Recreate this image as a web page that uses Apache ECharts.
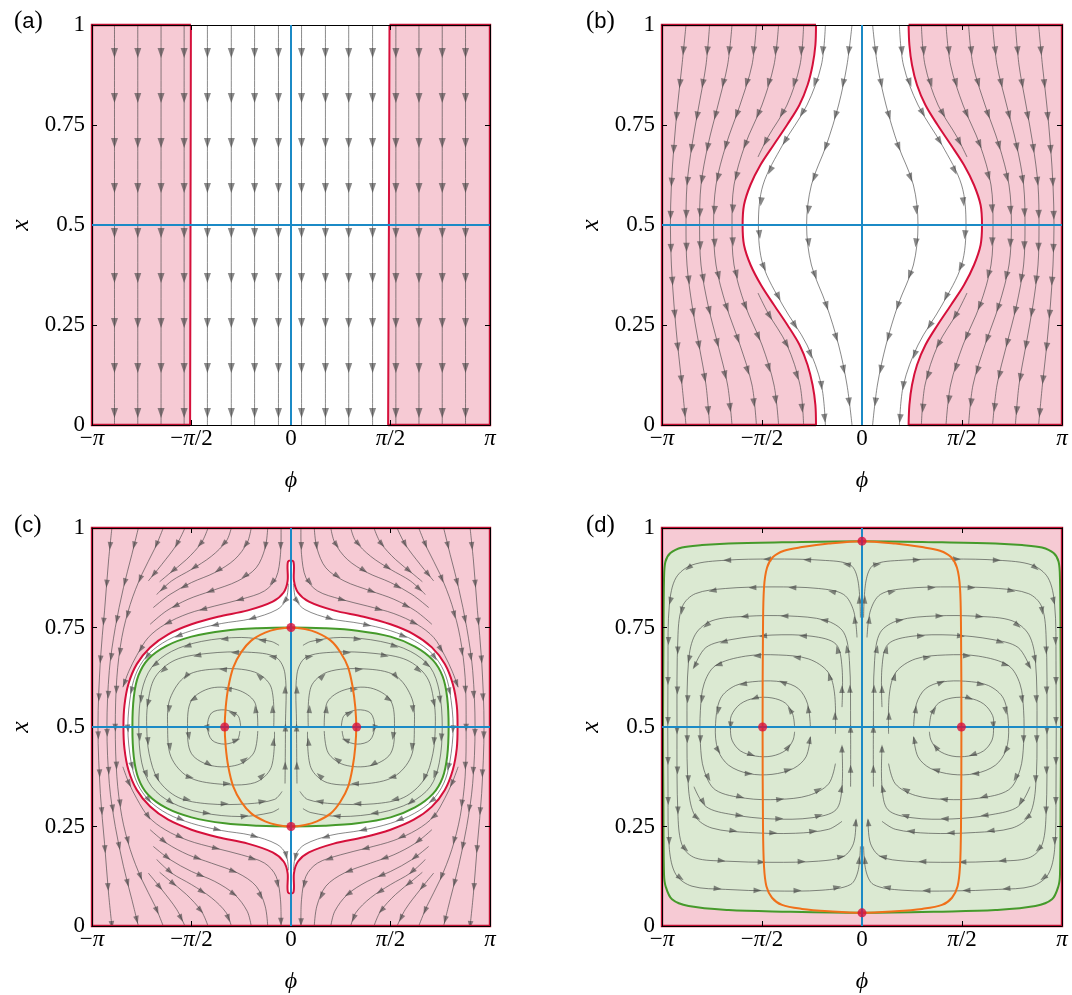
<!DOCTYPE html>
<html>
<head>
<meta charset="utf-8">
<script src="https://cdn.jsdelivr.net/npm/echarts@6/dist/echarts.min.js"></script>
<style>
html,body{margin:0;padding:0;background:#ffffff;}
#chart{width:1072px;height:995px;}
</style>
</head>
<body>
<div id="chart"></div>
<script>
// ---------------- texts ----------------
const panelLetters = ['a','b','c','d'];
const phiTickLabels = ['−{i|π}','−{i|π}/2','0','{i|π}/2','{i|π}'];
const xTickLabels = ['0','0.25','0.5','0.75','1'];
const phiName = 'ϕ';
const xName = 'x';

// horizontal / vertical reference lines (phi in units of pi, x)
const blueLines = [[[0,0],[0,1]],[[-1,0.5],[1,0.5]]];

// ---------------- panel (a) ----------------
const aStreamPhi = [-0.887,-0.77,-0.653,-0.537,-0.42,-0.3,-0.183,-0.063,0.053,0.173,0.29,0.41,0.527,0.643,0.76,0.877];
const aRedLeft = [[-0.503,1],[-0.505,0.5],[-0.507,0]];
const aRedRight = [[0.495,1],[0.492,0.5],[0.488,0]];

// ---------------- panel (b) ----------------
const bLevels = [1,0.9,0.8,0.7,0.6,0.5,0.4,0.3,0.2,0.1,0];
const bStreamPhi = [
  [-0.183,-0.203,-0.275,-0.397,-0.495,-0.518,-0.495,-0.397,-0.275,-0.203,-0.183],
  [-0.05,-0.075,-0.117,-0.178,-0.253,-0.277,-0.253,-0.178,-0.117,-0.075,-0.05],
  [0.053,0.077,0.12,0.18,0.257,0.28,0.257,0.18,0.12,0.077,0.053],
  [0.187,0.207,0.28,0.4,0.498,0.52,0.498,0.4,0.28,0.207,0.187],
  [-0.88,-0.9,-0.922,-0.94,-0.953,-0.958,-0.953,-0.94,-0.922,-0.9,-0.88],
  [-0.762,-0.78,-0.815,-0.85,-0.875,-0.88,-0.875,-0.85,-0.815,-0.78,-0.762],
  [-0.65,-0.672,-0.72,-0.77,-0.805,-0.812,-0.805,-0.77,-0.72,-0.672,-0.65],
  [-0.528,-0.55,-0.61,-0.68,-0.73,-0.742,-0.73,-0.68,-0.61,-0.55,-0.528],
  [-0.417,-0.44,-0.5,-0.585,-0.64,-0.65,-0.64,-0.585,-0.5,-0.44,-0.417],
  [0.883,0.902,0.924,0.942,0.955,0.96,0.955,0.942,0.924,0.902,0.883],
  [0.767,0.785,0.82,0.855,0.88,0.885,0.88,0.855,0.82,0.785,0.767],
  [0.653,0.675,0.723,0.773,0.808,0.815,0.808,0.773,0.723,0.675,0.653],
  [0.533,0.555,0.615,0.685,0.735,0.747,0.735,0.685,0.615,0.555,0.533],
  [0.42,0.443,0.505,0.59,0.645,0.655,0.645,0.59,0.505,0.443,0.42]
];
const bPartial = [
  [[-0.292,1],[-0.31,0.9],[-0.375,0.8],[-0.47,0.72],[-0.52,0.67]],
  [[-0.52,0.33],[-0.47,0.28],[-0.375,0.2],[-0.31,0.1],[-0.292,0]],
  [[0.297,1],[0.315,0.9],[0.38,0.8],[0.475,0.72],[0.525,0.67]],
  [[0.525,0.33],[0.475,0.28],[0.38,0.2],[0.315,0.1],[0.297,0]]
];
const bRedLevels = [1,0.95,0.9,0.85,0.8,0.75,0.7,0.65,0.6,0.55,0.5,0.45,0.4,0.35,0.3,0.25,0.2,0.15,0.1,0.05,0];
const bRedLeft = [-0.23,-0.233,-0.247,-0.272,-0.313,-0.375,-0.442,-0.508,-0.558,-0.59,-0.597,-0.59,-0.557,-0.505,-0.44,-0.373,-0.312,-0.272,-0.247,-0.233,-0.23];
const bRedRight = [0.233,0.237,0.25,0.275,0.317,0.378,0.445,0.51,0.56,0.593,0.6,0.593,0.56,0.51,0.445,0.378,0.317,0.275,0.25,0.237,0.233];

// ---------------- panel (c) ----------------
const cRedLeft = [[-0.015,0.916],[-0.017,0.867],[-0.037,0.838],[-0.092,0.815],[-0.217,0.793],[-0.367,0.777],[-0.5,0.758],[-0.617,0.733],[-0.708,0.7],[-0.775,0.658],[-0.817,0.608],[-0.837,0.554],[-0.842,0.5],[-0.837,0.446],[-0.817,0.392],[-0.775,0.342],[-0.708,0.3],[-0.617,0.267],[-0.5,0.242],[-0.367,0.223],[-0.217,0.207],[-0.092,0.185],[-0.037,0.162],[-0.017,0.133],[-0.015,0.084]];
const cRedRight = [[0.012,0.916],[0.015,0.867],[0.035,0.838],[0.09,0.815],[0.215,0.793],[0.365,0.777],[0.5,0.758],[0.617,0.733],[0.708,0.7],[0.773,0.658],[0.813,0.608],[0.833,0.554],[0.837,0.5],[0.833,0.446],[0.813,0.392],[0.773,0.342],[0.708,0.3],[0.617,0.267],[0.5,0.242],[0.365,0.223],[0.215,0.207],[0.09,0.185],[0.035,0.162],[0.015,0.133],[0.012,0.084]];
const cGreen = [[0,0.75],[-0.167,0.748],[-0.333,0.742],[-0.5,0.727],[-0.625,0.704],[-0.717,0.671],[-0.767,0.629],[-0.79,0.575],[-0.797,0.5],[-0.79,0.425],[-0.767,0.371],[-0.717,0.329],[-0.625,0.296],[-0.5,0.273],[-0.333,0.258],[-0.167,0.252],[0,0.25],[0.167,0.252],[0.333,0.258],[0.5,0.273],[0.623,0.298],[0.713,0.332],[0.762,0.373],[0.785,0.427],[0.792,0.5],[0.785,0.573],[0.762,0.627],[0.713,0.668],[0.623,0.702],[0.5,0.727],[0.333,0.742],[0.167,0.748]];
const cOrange = [[0,0.75],[-0.07,0.746],[-0.13,0.737],[-0.2,0.717],[-0.25,0.688],[-0.29,0.65],[-0.315,0.6],[-0.328,0.55],[-0.333,0.5],[-0.328,0.45],[-0.315,0.4],[-0.29,0.35],[-0.25,0.312],[-0.2,0.283],[-0.13,0.263],[-0.07,0.254],[0,0.25],[0.07,0.254],[0.13,0.263],[0.2,0.283],[0.248,0.312],[0.287,0.35],[0.31,0.4],[0.323,0.45],[0.328,0.5],[0.323,0.55],[0.31,0.6],[0.287,0.65],[0.248,0.688],[0.2,0.717],[0.13,0.737],[0.07,0.746]];
const cDots = [[0,0.75],[0,0.25],[-0.333,0.5],[0.33,0.5]];
const cStreams = [
  [[-0.9,1],[-0.917,0.917],[-0.937,0.792],[-0.958,0.667],[-0.97,0.5],[-0.958,0.333],[-0.937,0.208],[-0.917,0.083],[-0.9,0]],
  [[-0.767,1],[-0.8,0.933],[-0.842,0.85],[-0.883,0.75],[-0.913,0.642],[-0.925,0.5],[-0.913,0.358],[-0.883,0.25],[-0.842,0.15],[-0.8,0.067],[-0.767,0]],
  [[-0.642,1],[-0.683,0.95],[-0.75,0.883],[-0.808,0.808],[-0.85,0.725],[-0.875,0.625],[-0.883,0.5],[-0.875,0.375],[-0.85,0.275],[-0.808,0.192],[-0.75,0.117],[-0.683,0.05],[-0.642,0]],
  [[-0.05,1],[-0.053,0.933],[-0.075,0.875],[-0.133,0.842],[-0.25,0.821],[-0.383,0.804],[-0.517,0.785],[-0.633,0.758],[-0.717,0.725],[-0.775,0.68],[-0.815,0.64],[-0.845,0.6]],
  [[-0.117,1],[-0.13,0.95],[-0.175,0.9],[-0.267,0.867],[-0.4,0.842],[-0.517,0.821],[-0.625,0.792],[-0.708,0.758]],
  [[-0.2,1],[-0.22,0.963],[-0.283,0.921],[-0.383,0.888],[-0.5,0.863],[-0.608,0.833],[-0.692,0.8]],
  [[-0.3,1],[-0.325,0.967],[-0.4,0.929],[-0.5,0.896],[-0.6,0.867],[-0.675,0.833]],
  [[-0.417,1],[-0.45,0.963],[-0.525,0.921],[-0.617,0.883],[-0.66,0.865]],
  [[-0.533,1],[-0.575,0.958],[-0.65,0.908],[-0.717,0.867]],
  [[-0.845,0.4],[-0.815,0.36],[-0.775,0.32],[-0.717,0.275],[-0.633,0.242],[-0.517,0.215],[-0.383,0.196],[-0.25,0.179],[-0.133,0.158],[-0.075,0.125],[-0.053,0.067],[-0.05,0]],
  [[-0.708,0.242],[-0.625,0.208],[-0.517,0.179],[-0.4,0.158],[-0.267,0.133],[-0.175,0.1],[-0.13,0.05],[-0.117,0]],
  [[-0.692,0.2],[-0.608,0.167],[-0.5,0.137],[-0.383,0.112],[-0.283,0.079],[-0.22,0.037],[-0.2,0]],
  [[-0.675,0.167],[-0.6,0.133],[-0.5,0.104],[-0.4,0.071],[-0.325,0.033],[-0.3,0]],
  [[-0.66,0.135],[-0.617,0.117],[-0.525,0.079],[-0.45,0.037],[-0.417,0]],
  [[-0.717,0.133],[-0.65,0.092],[-0.575,0.042],[-0.533,0]],
  [[0.9,1],[0.917,0.917],[0.937,0.792],[0.958,0.667],[0.97,0.5],[0.958,0.333],[0.937,0.208],[0.917,0.083],[0.9,0]],
  [[0.767,1],[0.8,0.933],[0.842,0.85],[0.883,0.75],[0.913,0.642],[0.925,0.5],[0.913,0.358],[0.883,0.25],[0.842,0.15],[0.8,0.067],[0.767,0]],
  [[0.642,1],[0.683,0.95],[0.75,0.883],[0.808,0.808],[0.85,0.725],[0.875,0.625],[0.88,0.5],[0.875,0.375],[0.85,0.275],[0.808,0.192],[0.75,0.117],[0.683,0.05],[0.642,0]],
  [[0.05,1],[0.053,0.933],[0.075,0.875],[0.133,0.842],[0.25,0.821],[0.383,0.804],[0.517,0.785],[0.633,0.758],[0.717,0.725],[0.772,0.68],[0.81,0.64],[0.84,0.6]],
  [[0.117,1],[0.13,0.95],[0.175,0.9],[0.267,0.867],[0.4,0.842],[0.517,0.821],[0.625,0.792],[0.708,0.758]],
  [[0.2,1],[0.22,0.963],[0.283,0.921],[0.383,0.888],[0.5,0.863],[0.608,0.833],[0.692,0.8]],
  [[0.3,1],[0.325,0.967],[0.4,0.929],[0.5,0.896],[0.6,0.867],[0.675,0.833]],
  [[0.417,1],[0.45,0.963],[0.525,0.921],[0.617,0.883],[0.66,0.865]],
  [[0.533,1],[0.575,0.958],[0.65,0.908],[0.717,0.867]],
  [[0.84,0.4],[0.81,0.36],[0.772,0.32],[0.717,0.275],[0.633,0.242],[0.517,0.215],[0.383,0.196],[0.25,0.179],[0.133,0.158],[0.075,0.125],[0.053,0.067],[0.05,0]],
  [[0.708,0.242],[0.625,0.208],[0.517,0.179],[0.4,0.158],[0.267,0.133],[0.175,0.1],[0.13,0.05],[0.117,0]],
  [[0.692,0.2],[0.608,0.167],[0.5,0.137],[0.383,0.112],[0.283,0.079],[0.22,0.037],[0.2,0]],
  [[0.675,0.167],[0.6,0.133],[0.5,0.104],[0.4,0.071],[0.325,0.033],[0.3,0]],
  [[0.66,0.135],[0.617,0.117],[0.525,0.079],[0.45,0.037],[0.417,0]],
  [[0.717,0.133],[0.65,0.092],[0.575,0.042],[0.533,0]],
  [[-0.253,0.5],[-0.267,0.529],[-0.333,0.543],[-0.4,0.535],[-0.42,0.5],[-0.397,0.467],[-0.333,0.457],[-0.27,0.468],[-0.257,0.49]],
  [[-0.167,0.5],[-0.183,0.563],[-0.267,0.593],[-0.4,0.598],[-0.5,0.567],[-0.52,0.5],[-0.5,0.433],[-0.4,0.403],[-0.267,0.405],[-0.187,0.435],[-0.167,0.49]],
  [[-0.087,0.5],[-0.1,0.6],[-0.183,0.638],[-0.367,0.646],[-0.525,0.629],[-0.608,0.571],[-0.62,0.5],[-0.603,0.425],[-0.517,0.375],[-0.367,0.357],[-0.183,0.36],[-0.1,0.398],[-0.083,0.488]],
  [[-0.03,0.358],[-0.028,0.5],[-0.03,0.633],[-0.075,0.675],[-0.217,0.688],[-0.417,0.685],[-0.583,0.668],[-0.683,0.625],[-0.72,0.558],[-0.725,0.5],[-0.713,0.433],[-0.667,0.367],[-0.567,0.323],[-0.417,0.307],[-0.217,0.307],[-0.083,0.318],[-0.045,0.338]],
  [[-0.06,0.705],[-0.1,0.715],[-0.25,0.725],[-0.45,0.715],[-0.6,0.69],[-0.7,0.65],[-0.75,0.59],[-0.765,0.5],[-0.75,0.41],[-0.7,0.35],[-0.6,0.31],[-0.45,0.285],[-0.25,0.275],[-0.1,0.285],[-0.06,0.295]],
  [[0.253,0.5],[0.267,0.529],[0.333,0.543],[0.4,0.535],[0.42,0.5],[0.397,0.467],[0.333,0.457],[0.27,0.468],[0.257,0.49]],
  [[0.167,0.5],[0.183,0.563],[0.267,0.593],[0.4,0.598],[0.5,0.567],[0.52,0.5],[0.5,0.433],[0.4,0.403],[0.267,0.405],[0.187,0.435],[0.167,0.49]],
  [[0.087,0.5],[0.1,0.6],[0.183,0.638],[0.367,0.646],[0.525,0.629],[0.608,0.571],[0.62,0.5],[0.603,0.425],[0.517,0.375],[0.367,0.357],[0.183,0.36],[0.1,0.398],[0.083,0.488]],
  [[0.03,0.358],[0.028,0.5],[0.03,0.633],[0.075,0.675],[0.217,0.688],[0.417,0.685],[0.583,0.668],[0.683,0.625],[0.72,0.558],[0.725,0.5],[0.713,0.433],[0.667,0.367],[0.567,0.323],[0.417,0.307],[0.217,0.307],[0.083,0.318],[0.045,0.338]],
  [[0.06,0.705],[0.1,0.715],[0.25,0.725],[0.45,0.715],[0.6,0.69],[0.7,0.65],[0.745,0.59],[0.76,0.5],[0.745,0.41],[0.7,0.35],[0.6,0.31],[0.45,0.285],[0.25,0.275],[0.1,0.285],[0.06,0.295]],
  [[-0.013,0.86],[-0.025,0.82],[-0.07,0.795],[-0.2,0.772],[-0.35,0.76],[-0.5,0.742],[-0.621,0.718],[-0.712,0.685],[-0.771,0.643],[-0.803,0.59],[-0.82,0.5],[-0.803,0.41],[-0.771,0.357],[-0.712,0.315],[-0.621,0.282],[-0.5,0.258],[-0.35,0.24],[-0.2,0.228],[-0.07,0.205],[-0.025,0.18],[-0.013,0.14]],
  [[0.013,0.86],[0.025,0.82],[0.07,0.795],[0.2,0.772],[0.35,0.76],[0.5,0.742],[0.62,0.717],[0.71,0.684],[0.768,0.641],[0.798,0.588],[0.815,0.5],[0.798,0.412],[0.768,0.359],[0.71,0.316],[0.62,0.283],[0.5,0.258],[0.35,0.24],[0.2,0.228],[0.07,0.205],[0.025,0.18],[0.013,0.14]]
];

// ---------------- panel (d) ----------------
const dGreen = [[0,0.967],[-0.4,0.964],[-0.667,0.961],[-0.8,0.957],[-0.9,0.951],[-0.958,0.937],[-0.983,0.915],[-0.99,0.87],[-0.993,0.7],[-0.995,0.5],[-0.993,0.3],[-0.99,0.13],[-0.982,0.1],[-0.95,0.067],[-0.867,0.05],[-0.667,0.04],[-0.4,0.036],[0,0.033],[0.4,0.036],[0.667,0.04],[0.867,0.05],[0.95,0.067],[0.982,0.1],[0.99,0.13],[0.993,0.3],[0.995,0.5],[0.993,0.7],[0.99,0.87],[0.983,0.915],[0.958,0.937],[0.9,0.951],[0.8,0.957],[0.667,0.961],[0.4,0.964]];
const dOrange = [[0,0.967],[-0.167,0.961],[-0.3,0.952],[-0.39,0.943],[-0.445,0.927],[-0.475,0.9],[-0.49,0.85],[-0.495,0.75],[-0.497,0.5],[-0.495,0.25],[-0.49,0.15],[-0.478,0.1],[-0.45,0.071],[-0.4,0.053],[-0.3,0.043],[-0.167,0.037],[0,0.033],[0.167,0.037],[0.3,0.043],[0.4,0.053],[0.45,0.071],[0.478,0.1],[0.49,0.15],[0.495,0.25],[0.497,0.5],[0.495,0.75],[0.49,0.85],[0.475,0.9],[0.445,0.927],[0.39,0.943],[0.3,0.952],[0.167,0.961]];
const dDots = [[0,0.967],[0,0.033],[-0.497,0.5],[0.497,0.5]];
const dStreams = [
  [[-0.337,0.5],[-0.347,0.533],[-0.383,0.56],[-0.45,0.573],[-0.533,0.573],[-0.608,0.558],[-0.653,0.529],[-0.658,0.5],[-0.65,0.467],[-0.608,0.44],[-0.533,0.427],[-0.45,0.427],[-0.38,0.442],[-0.345,0.467],[-0.337,0.488]],
  [[-0.258,0.5],[-0.272,0.558],[-0.317,0.596],[-0.4,0.613],[-0.517,0.615],[-0.633,0.604],[-0.708,0.571],[-0.733,0.5],[-0.72,0.442],[-0.667,0.404],[-0.567,0.383],[-0.45,0.381],[-0.342,0.396],[-0.28,0.425],[-0.258,0.475]],
  [[-0.133,0.483],[-0.137,0.583],[-0.17,0.638],[-0.267,0.671],[-0.417,0.681],[-0.583,0.678],[-0.733,0.654],[-0.79,0.608],[-0.808,0.542],[-0.808,0.458],[-0.79,0.392],[-0.733,0.342],[-0.583,0.321],[-0.417,0.318],[-0.267,0.328],[-0.167,0.357],[-0.133,0.408]],
  [[-0.057,0.35],[-0.057,0.5],[-0.063,0.667],[-0.092,0.738],[-0.183,0.768],[-0.367,0.779],[-0.583,0.778],[-0.75,0.767],[-0.833,0.733],[-0.867,0.667],[-0.875,0.5],[-0.867,0.342],[-0.833,0.275],[-0.75,0.246],[-0.567,0.235],[-0.333,0.233],[-0.167,0.243],[-0.1,0.263]],
  [[-0.025,0.725],[-0.042,0.792],[-0.092,0.833],[-0.217,0.848],[-0.45,0.852],[-0.683,0.848],[-0.833,0.835],[-0.897,0.804],[-0.92,0.733],[-0.925,0.5],[-0.92,0.275],[-0.897,0.2],[-0.833,0.171],[-0.683,0.163],[-0.45,0.16],[-0.217,0.163],[-0.092,0.175],[-0.042,0.208],[-0.03,0.267]],
  [[-0.008,0.775],[-0.02,0.867],[-0.058,0.907],[-0.2,0.919],[-0.45,0.922],[-0.683,0.919],[-0.85,0.907],[-0.93,0.875],[-0.963,0.808],[-0.97,0.667],[-0.97,0.333],[-0.963,0.192],[-0.93,0.129],[-0.85,0.1],[-0.683,0.092],[-0.45,0.088],[-0.2,0.09],[-0.058,0.104],[-0.02,0.138],[-0.008,0.2]],
  [[-0.1,0.55],[-0.1,0.65],[-0.13,0.708],[-0.25,0.728],[-0.45,0.731],[-0.65,0.72],[-0.78,0.7],[-0.84,0.65]],
  [[-0.84,0.35],[-0.78,0.3],[-0.65,0.28],[-0.45,0.269],[-0.25,0.272],[-0.13,0.292],[-0.1,0.35],[-0.1,0.45]],
  [[0.337,0.5],[0.347,0.533],[0.383,0.56],[0.45,0.573],[0.533,0.573],[0.608,0.558],[0.653,0.529],[0.658,0.5],[0.65,0.467],[0.608,0.44],[0.533,0.427],[0.45,0.427],[0.38,0.442],[0.345,0.467],[0.337,0.488]],
  [[0.258,0.5],[0.272,0.558],[0.317,0.596],[0.4,0.613],[0.517,0.615],[0.633,0.604],[0.708,0.571],[0.733,0.5],[0.72,0.442],[0.667,0.404],[0.567,0.383],[0.45,0.381],[0.342,0.396],[0.28,0.425],[0.258,0.475]],
  [[0.133,0.483],[0.137,0.583],[0.17,0.638],[0.267,0.671],[0.417,0.681],[0.583,0.678],[0.733,0.654],[0.79,0.608],[0.808,0.542],[0.808,0.458],[0.79,0.392],[0.733,0.342],[0.583,0.321],[0.417,0.318],[0.267,0.328],[0.167,0.357],[0.133,0.408]],
  [[0.057,0.35],[0.057,0.5],[0.063,0.667],[0.092,0.738],[0.183,0.768],[0.367,0.779],[0.583,0.778],[0.75,0.767],[0.833,0.733],[0.867,0.667],[0.875,0.5],[0.867,0.342],[0.833,0.275],[0.75,0.246],[0.567,0.235],[0.333,0.233],[0.167,0.243],[0.1,0.263]],
  [[0.025,0.725],[0.042,0.792],[0.092,0.833],[0.217,0.848],[0.45,0.852],[0.683,0.848],[0.833,0.835],[0.897,0.804],[0.92,0.733],[0.925,0.5],[0.92,0.275],[0.897,0.2],[0.833,0.171],[0.683,0.163],[0.45,0.16],[0.217,0.163],[0.092,0.175],[0.042,0.208],[0.03,0.267]],
  [[0.008,0.775],[0.02,0.867],[0.058,0.907],[0.2,0.919],[0.45,0.922],[0.683,0.919],[0.85,0.907],[0.93,0.875],[0.963,0.808],[0.97,0.667],[0.97,0.333],[0.963,0.192],[0.93,0.129],[0.85,0.1],[0.683,0.092],[0.45,0.088],[0.2,0.09],[0.058,0.104],[0.02,0.138],[0.008,0.2]],
  [[0.1,0.55],[0.1,0.65],[0.13,0.708],[0.25,0.728],[0.45,0.731],[0.65,0.72],[0.78,0.7],[0.84,0.65]],
  [[0.84,0.35],[0.78,0.3],[0.65,0.28],[0.45,0.269],[0.25,0.272],[0.13,0.292],[0.1,0.35],[0.1,0.45]]
];

// ---------------- styling / layout ----------------
const SERIF = "'Liberation Serif','DejaVu Serif',serif";
const SANS = "'Liberation Sans','DejaVu Sans',sans-serif";
const COLOR = {pink:'#f6cad4', green:'#dbe9d2', red:'#d5103b', frameRed:'#c20f32', gline:'#459a2b', orange:'#f0701a', blue:'#1b8ac6', dot:'#d8103d'};
const GRAY = 'rgba(64,64,64,0.62)';
const GRID = [
  {left:92, top:25, width:398, height:400},
  {left:662, top:25, width:400, height:400},
  {left:92, top:528, width:398, height:400},
  {left:662, top:528, width:400, height:400}
];
const FRAME = [[-1,1],[1,1],[1,0],[-1,0]];
const ARROW = [{off:28,sp:45,L:10,W:7},{off:26,sp:33,L:9,W:6.5},{off:18,sp:38,L:8,W:5.6},{off:18,sp:40,L:8,W:5.6}];

function pairUp(levels, phis){ return phis.map((p,i)=>[p, levels[i]]); }
function last(a){ return a[a.length-1]; }

const panels = [];
panels.push({
  fills:[{pts:[[-1,1]].concat(aRedLeft,[[-1,0]]), fill:COLOR.pink},{pts:aRedRight.concat([[1,0],[1,1]]), fill:COLOR.pink}],
  streams: aStreamPhi.map(p=>[[p,1],[p,0]]),
  curves:[{pts:aRedLeft,color:COLOR.red,w:2},{pts:aRedRight,color:COLOR.red,w:2}],
  frame:[{pts:[aRedLeft[0],[-1,1],[-1,0],last(aRedLeft)]},{pts:[aRedRight[0],[1,1],[1,0],last(aRedRight)]}],
  dots:[]
});
const bL = pairUp(bRedLevels,bRedLeft), bR = pairUp(bRedLevels,bRedRight);
panels.push({
  fills:[{pts:[[-1,1]].concat(bL,[[-1,0]]), fill:COLOR.pink},{pts:bR.concat([[1,0],[1,1]]), fill:COLOR.pink}],
  streams: bStreamPhi.map(a=>pairUp(bLevels,a)).concat(bPartial),
  curves:[{pts:bL,color:COLOR.red,w:2,smooth:0.33},{pts:bR,color:COLOR.red,w:2,smooth:0.33}],
  frame:[{pts:[bL[0],[-1,1],[-1,0],last(bL)]},{pts:[bR[0],[1,1],[1,0],last(bR)]}],
  dots:[]
});
const cRed = cRedLeft.concat(cRedRight.slice().reverse());
panels.push({
  fills:[{pts:FRAME,fill:COLOR.pink},{pts:cRed,fill:'#ffffff',smooth:0.33},{pts:cGreen,fill:COLOR.green,smooth:0.33}],
  streams:cStreams,
  curves:[{pts:cRed,closed:true,smooth:0.33,color:COLOR.red,w:2},{pts:cGreen,closed:true,smooth:0.33,color:COLOR.gline,w:2},{pts:cOrange,closed:true,smooth:0.33,color:COLOR.orange,w:2}],
  frame:[{pts:FRAME,closed:true}],
  dots:cDots
});
panels.push({
  fills:[{pts:FRAME,fill:COLOR.pink},{pts:dGreen,fill:COLOR.green,smooth:0.33}],
  streams:dStreams,
  curves:[{pts:dGreen,closed:true,smooth:0.33,color:COLOR.gline,w:2},{pts:dOrange,closed:true,smooth:0.33,color:COLOR.orange,w:2}],
  frame:[{pts:FRAME,closed:true}],
  dots:dDots
});

function streamEl(pts, A){
  const ch=[{type:'polyline', shape:{points:pts, smooth:0.33}, style:{fill:'none', stroke:GRAY, lineWidth:1}}];
  let acc=0, next=A.off;
  for(let i=1;i<pts.length;i++){
    const x0=pts[i-1][0], y0=pts[i-1][1], dx=pts[i][0]-x0, dy=pts[i][1]-y0, len=Math.hypot(dx,dy);
    if(len<1e-6) continue;
    const ux=dx/len, uy=dy/len;
    while(next<=acc+len){
      const t=(next-acc)/len, cx=x0+dx*t, cy=y0+dy*t;
      const hx=ux*A.L/2, hy=uy*A.L/2, nx=-uy*A.W/2, ny=ux*A.W/2;
      ch.push({type:'polygon', shape:{points:[[cx+hx,cy+hy],[cx-hx+nx,cy-hy+ny],[cx-hx-nx,cy-hy-ny]]}, style:{fill:GRAY, stroke:'none'}});
      next+=A.sp;
    }
    acc+=len;
  }
  return {type:'group', children:ch};
}
function draw(it, api, k){
  const pts = it.pts.map(q=>api.coord(q));
  if(it.kind==='fill') return {type:'polygon', shape:{points:pts, smooth:it.smooth||0}, style:{fill:it.fill, stroke:it.fill, lineWidth:0.5}};
  if(it.kind==='line') return {type: it.closed?'polygon':'polyline', shape:{points:pts, smooth:it.smooth||0}, style:{fill:'none', stroke:it.color, lineWidth:it.w, lineJoin:'miter'}};
  return streamEl(pts, ARROW[k]);
}
function layer(k, items, z, clip){
  return {type:'custom', coordinateSystem:'cartesian2d', xAxisIndex:2*k, yAxisIndex:2*k, z:z, clip:clip, silent:true, animation:false,
    data: items.map(()=>[0,0.5]),
    renderItem:(params,api)=>draw(items[params.dataIndex], api, k)};
}

const series=[];
panels.forEach((P,k)=>{
  series.push(layer(k, P.fills.map(f=>Object.assign({kind:'fill'},f)), 1, true));
  series.push(layer(k, P.streams.map(s=>({kind:'stream',pts:s})), 2, true));
  series.push(layer(k, P.curves.map(c=>Object.assign({kind:'line'},c)), 3, true));
  series.push(layer(k, P.frame.map(f=>({kind:'line',pts:f.pts,closed:f.closed,color:COLOR.frameRed,w:2.4})), 3, false));
  series.push(layer(k, blueLines.map(l=>({kind:'line',pts:l,color:COLOR.blue,w:2})), 5, true));
  if(P.dots.length) series.push({type:'scatter', xAxisIndex:2*k, yAxisIndex:2*k, data:P.dots, symbol:'circle', symbolSize:9, itemStyle:{color:COLOR.dot}, z:6, silent:true, animation:false});
});

const xAxis=[], yAxis=[];
GRID.forEach((g,k)=>{
  const common = {gridIndex:k, type:'value', z:4, splitLine:{show:false},
    axisLine:{show:true,onZero:false,lineStyle:{color:'#000',width:1}},
    axisTick:{show:true,inside:true,length:5,lineStyle:{color:'#000',width:1}}};
  const lab = {show:true, color:'#000', fontFamily:SERIF, fontSize:23, showMinLabel:true, showMaxLabel:true};
  xAxis.push(Object.assign({}, common, {min:-1,max:1,interval:0.5,position:'bottom',
    axisLabel:Object.assign({}, lab, {margin:2, formatter:v=>phiTickLabels[Math.round((v+1)*2)], rich:{i:{fontFamily:SERIF,fontStyle:'italic',fontSize:23,color:'#000'}}}),
    name:phiName, nameLocation:'middle', nameGap:44, nameTextStyle:{fontFamily:SERIF,fontStyle:'italic',fontSize:24,color:'#000'}}));
  xAxis.push(Object.assign({}, common, {min:-1,max:1,interval:0.5,position:'top', axisLabel:{show:false}}));
  yAxis.push(Object.assign({}, common, {min:0,max:1,interval:0.25,position:'left',
    axisLabel:Object.assign({}, lab, {margin:7, formatter:v=>xTickLabels[Math.round(v*4)]}),
    name:xName, nameLocation:'middle', nameGap:58, nameTextStyle:{fontFamily:SERIF,fontStyle:'italic',fontSize:26,color:'#000'}}));
  yAxis.push(Object.assign({}, common, {min:0,max:1,interval:0.25,position:'right', axisLabel:{show:false}}));
});

const chart = echarts.init(document.getElementById('chart'), null, {renderer:'canvas'});
chart.setOption({
  animation:false,
  backgroundColor:'#ffffff',
  grid: GRID.map(g=>Object.assign({containLabel:false}, g)),
  xAxis: xAxis,
  yAxis: yAxis,
  series: series,
  graphic: panelLetters.map((t,k)=>({type:'text', left:[14,586,14,586][k], top:[9,9,513,513][k], z:10,
    style:{text:'{p|(}{s|'+t+'}{p|)}', rich:{p:{fontFamily:SERIF,fontSize:25,fill:'#000'}, s:{fontFamily:SANS,fontSize:22,fill:'#000'}}}}))
});
</script>
</body>
</html>
